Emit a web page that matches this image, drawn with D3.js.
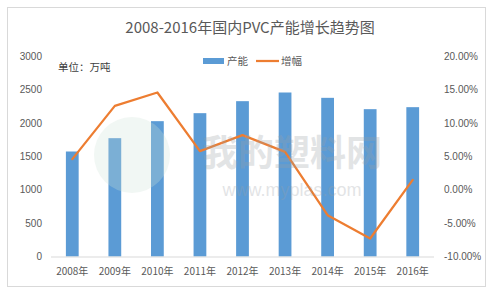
<!DOCTYPE html>
<html>
<head>
<meta charset="utf-8">
<script src="https://cdn.jsdelivr.net/npm/d3@7/dist/d3.min.js"></script>
<style>
  body { margin: 0; background: #fff; }
  svg { display: block; font-family: "Noto Sans CJK SC", "Noto Sans", sans-serif; }
</style>
</head>
<body>
<div class="main"></div>
<script>
// chart data
var years = ["2008年", "2009年", "2010年", "2011年", "2012年", "2013年", "2014年", "2015年", "2016年"];
var capacity = [1575, 1775, 2030, 2150, 2330, 2460, 2380, 2210, 2240];
var growth = [4.6, 12.6, 14.6, 5.8, 8.2, 5.7, -3.8, -7.3, 1.5];
var leftTicks = [0, 500, 1000, 1500, 2000, 2500, 3000];
var rightTicks = [-10, -5, 0, 5, 10, 15, 20];

var width = 497, height = 296;

var svg = d3.select("div.main")
    .append("svg")
    .attr("width", width)
    .attr("height", height)

// outer frame
svg.append("rect")
    .attr("x", 7.5).attr("y", 7.5)
    .attr("width", 478).attr("height", 279)
    .attr("fill", "#fff")
    .attr("stroke", "#d9d9d9")

svg.append("text")
    .attr("x", 250).attr("y", 33)
    .attr("text-anchor", "middle")
    .attr("fill", "#595959")
    .style("font-size", "15px")
    .text("2008-2016年国内PVC产能增长趋势图")

var x = d3.scaleBand().domain(years).range([51, 434]).paddingInner(0.7).paddingOuter(0.35)
var yL = d3.scaleLinear().domain([0, 3000]).range([256.5, 56.5])
var yR = d3.scaleLinear().domain([-10, 20]).range([256.5, 56.5])

// left axis labels
svg.append("g").selectAll("text")
    .data(leftTicks).enter().append("text")
    .attr("x", 42)
    .attr("y", d => yL(d) + 3.5)
    .attr("text-anchor", "end")
    .attr("fill", "#595959")
    .style("font-size", "10px")
    .style("font-family", "'Liberation Sans', sans-serif")
    .text(d => d)

// right axis labels
svg.append("g").selectAll("text")
    .data(rightTicks).enter().append("text")
    .attr("x", 444)
    .attr("y", d => yR(d) + 3.5)
    .attr("fill", "#595959")
    .style("font-size", "10px")
    .style("font-family", "'Liberation Sans', sans-serif")
    .text(d => d.toFixed(2) + "%")

// bars
svg.append("g").selectAll("rect")
    .data(capacity).enter().append("rect")
    .attr("x", (d, i) => x(years[i]))
    .attr("width", x.bandwidth())
    .attr("y", d => yL(d))
    .attr("height", d => yL(0) - yL(d))
    .attr("fill", "#5b9bd5")

// baseline
svg.append("line")
    .attr("x1", 51).attr("x2", 434)
    .attr("y1", yL(0) + 0.5).attr("y2", yL(0) + 0.5)
    .attr("stroke", "#d9d9d9")

// growth line
var line = d3.line()
    .x((d, i) => x(years[i]) + x.bandwidth() / 2)
    .y(d => yR(d))

svg.append("path")
    .datum(growth)
    .attr("d", line)
    .attr("fill", "none")
    .attr("stroke", "#ed7d31")
    .attr("stroke-width", 2.25)
    .attr("stroke-linejoin", "round")
    .attr("stroke-linecap", "round")

// watermark
var wm = svg.append("g").attr("opacity", 0.28)
wm.append("circle").attr("cx", 132).attr("cy", 155).attr("r", 38).attr("fill", "#cfe3d8")
wm.append("text").attr("x", 292).attr("y", 166).attr("text-anchor", "middle")
    .attr("fill", "#9aa0a6").style("font-size", "36px").style("font-weight", "bold").text("我的塑料网")
wm.append("text").attr("x", 292).attr("y", 196).attr("text-anchor", "middle")
    .attr("fill", "#9aa0a6").style("font-size", "18px").style("font-family", "'Liberation Sans', sans-serif").text("www.myplas.com")

// x labels
svg.append("g").selectAll("text")
    .data(years).enter().append("text")
    .attr("x", d => x(d) + x.bandwidth() / 2)
    .attr("y", 275)
    .attr("text-anchor", "middle")
    .attr("fill", "#595959")
    .style("font-size", "10px")
    .text(d => d)

// unit label
svg.append("text")
    .attr("x", 58).attr("y", 71)
    .attr("fill", "#404040")
    .style("font-size", "10.5px")
    .text("单位：万吨")

// legend
svg.append("rect").attr("x", 203).attr("y", 58).attr("width", 21).attr("height", 6).attr("fill", "#5b9bd5")
svg.append("text").attr("x", 227).attr("y", 65).attr("fill", "#595959").style("font-size", "10.5px").text("产能")
svg.append("line").attr("x1", 256).attr("x2", 279).attr("y1", 61).attr("y2", 61)
    .attr("stroke", "#ed7d31").attr("stroke-width", 2.25)
svg.append("text").attr("x", 281).attr("y", 65).attr("fill", "#595959").style("font-size", "10.5px").text("增幅")
</script>
</body>
</html>
